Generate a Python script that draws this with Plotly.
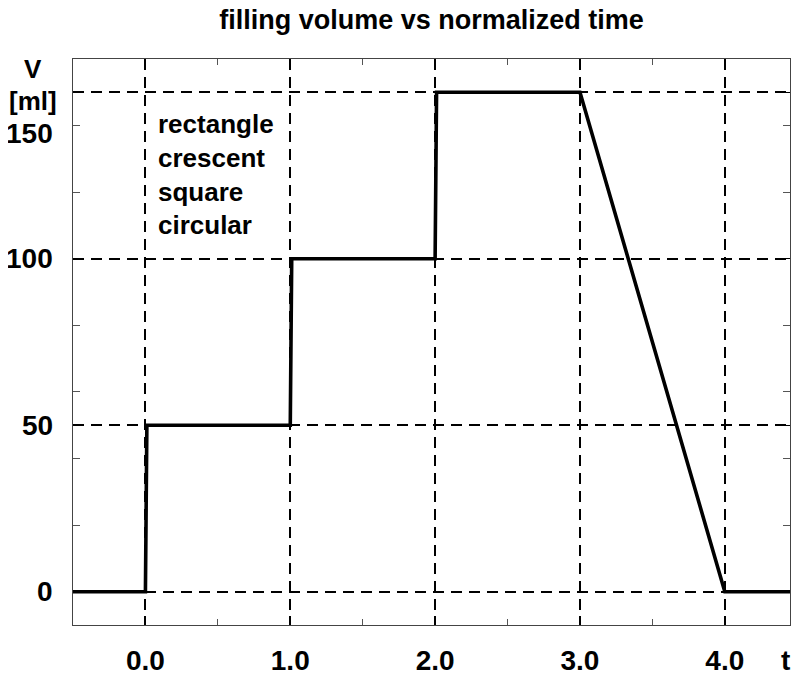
import plotly.graph_objects as go

# data
t_values = [-0.5, 0.0, 0.01, 1.0, 1.01, 2.0, 2.01, 3.0, 4.0, 4.45]
v_values = [0, 0, 50, 50, 100, 100, 150, 150, 0, 0]
x_ticks = [0, 1, 2, 3, 4]
y_ticks = [0, 50, 100, 150]
y_tick_labels = ["0", "50", "100", "150"]
shape_names = ["rectangle", "crescent", "square", "circular"]

FONT = "Liberation Sans, Arial, Helvetica, sans-serif"

fig = go.Figure()
fig.add_trace(go.Scatter(x=t_values, y=v_values, mode="lines",
                         line=dict(color="black", width=3.6), showlegend=False,
                         hoverinfo="skip"))

fig.update_layout(
    width=784, height=664,
    margin=dict(l=65, r=2, t=51, b=47, autoexpand=False),
    plot_bgcolor="white", paper_bgcolor="white",
    font=dict(family=FONT, color="black", size=26, weight="bold"),
    title=dict(text="filling volume vs normalized time", x=0.5, xanchor="center",
               xref="paper", y=0.982, yanchor="middle",
               font=dict(family=FONT, size=27, weight="bold", color="black")),
    showlegend=False,
)

fig.update_xaxes(
    range=[-0.5, 4.45], tickvals=x_ticks, ticktext=[f"{v:.1f}" for v in x_ticks],
    ticks="inside", ticklen=9, tickwidth=1.5, tickcolor="black",
    showline=True, linecolor="#444", linewidth=1.2, mirror="ticks",
    showgrid=True, gridcolor="black", gridwidth=1.5, griddash="11px,7px",
    zeroline=False, automargin=False,
    tickfont=dict(family=FONT, size=28, weight="bold", color="black"),
    ticklabelstandoff=10,
    minor=dict(dtick=0.5, tick0=0, ticks="inside", ticklen=6, tickcolor="#555",
               tickwidth=1, showgrid=False),
)
fig.update_yaxes(
    range=[-10, 160], tickvals=y_ticks, showticklabels=False,
    ticks="inside", ticklen=8, tickcolor="black",
    showline=True, linecolor="#444", linewidth=1.2, mirror="ticks",
    showgrid=True, gridcolor="black", gridwidth=1.5, griddash="11px,7px",
    zeroline=False, automargin=False,
    minor=dict(dtick=20, tick0=0, ticks="inside", ticklen=7, tickcolor="#555",
               tickwidth=1, showgrid=False),
)

# y tick labels (150 label sits lower, under the unit label)
for val, lab in zip(y_ticks, y_tick_labels):
    fig.add_annotation(x=0, xref="paper", xshift=-18, y=val, yref="y",
                       text=lab, showarrow=False, xanchor="right", yanchor="middle",
                       yshift=-41 if val == 150 else 0,
                       font=dict(family=FONT, size=28, weight="bold", color="black"))

# axis labels
fig.add_annotation(x=0, xref="paper", xshift=-40, y=1, yref="paper", yshift=-10,
                   text="V", showarrow=False, xanchor="center", yanchor="middle",
                   font=dict(family=FONT, size=26, weight="bold"))
fig.add_annotation(x=0, xref="paper", xshift=-40, y=1, yref="paper", yshift=-42,
                   text="[ml]", showarrow=False, xanchor="center", yanchor="middle",
                   font=dict(family=FONT, size=26, weight="bold"))
fig.add_annotation(x=1, xref="paper", xshift=-5, y=0, yref="paper", yshift=-35,
                   text="t", showarrow=False, xanchor="center", yanchor="middle",
                   font=dict(family=FONT, size=28, weight="bold"))

# shape names text block
fig.add_annotation(x=0.076, xref="x", y=1, yref="paper", yshift=-48,
                   text="<br>".join(shape_names), showarrow=False,
                   xanchor="left", yanchor="top", align="left",
                   font=dict(family=FONT, size=26, weight="bold"))

fig.write_html("out.html")
